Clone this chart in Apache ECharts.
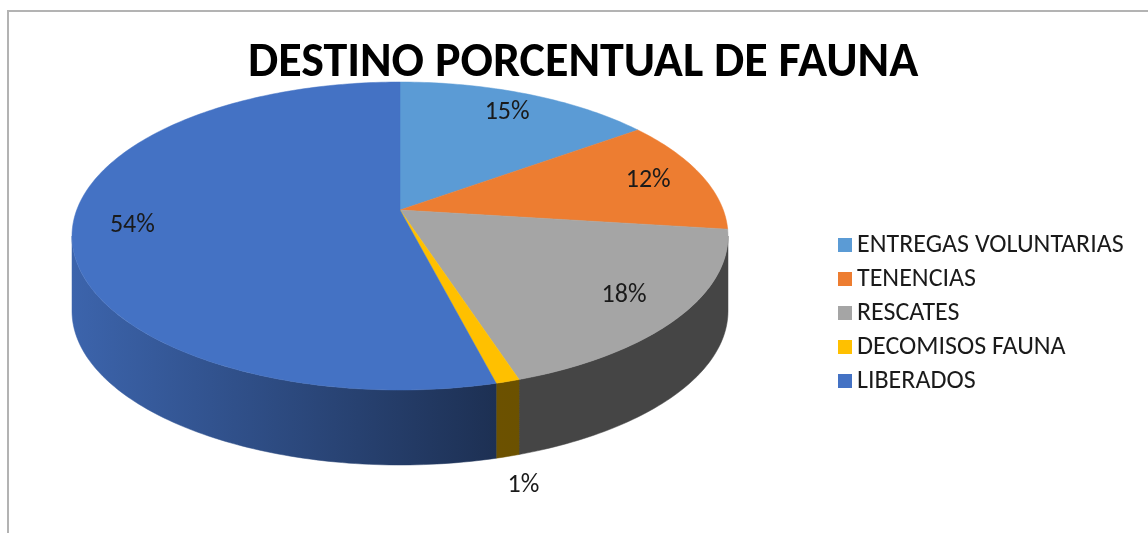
<!DOCTYPE html>
<html>
<head>
<meta charset="utf-8">
<script src="https://cdn.jsdelivr.net/npm/echarts@6/dist/echarts.min.js"></script>
<style>
  html, body { margin: 0; padding: 0; background: #fff; }
  #chart { width: 1148px; height: 533px; }
</style>
</head>
<body>
<div id="chart"></div>
<script>
// datos del grafico
var categories = ['ENTREGAS VOLUNTARIAS', 'TENENCIAS', 'RESCATES', 'DECOMISOS FAUNA', 'LIBERADOS'];
var values = [15, 12, 18, 1, 54];
var sliceColors = ['#5B9BD5', '#ED7D31', '#A5A5A5', '#FFC000', '#4472C4'];

var FONT = 'Carlito, Calibri, Lato, sans-serif';

// geometria del pastel 3D (elipse con perspectiva)
var cx = 400, cy = 236, rx = 328, ry = 154, k = 0.169, depth = 75;
var visFrom = Math.acos(-k), visTo = 2 * Math.PI - Math.acos(-k);

var total = values.reduce(function (a, b) { return a + b; }, 0);

function proj(t, r) {
	var u = r * Math.sin(t), v = -r * Math.cos(t);
	var d = 1 - k * v;
	return [cx + rx * u * Math.sqrt(1 - k * k) / d, cy + ry * (v - k) / d];
}

function shade(hex, f) {
	var n = parseInt(hex.slice(1), 16);
	var r = Math.round(((n >> 16) & 255) * f), g = Math.round(((n >> 8) & 255) * f), b = Math.round((n & 255) * f);
	return 'rgb(' + r + ',' + g + ',' + b + ')';
}

function sideFactor(x) {
	var t = Math.max(0, Math.min(1, (500 - x) / 430));
	return 0.42 + 0.46 * t;
}

function arcPoints(a0, a1, r) {
	var pts = [];
	var n = Math.max(2, Math.ceil((a1 - a0) / (Math.PI / 180)));
	for (var j = 0; j <= n; j++) {
		pts.push(proj(a0 + (a1 - a0) * j / n, r));
	}
	return pts;
}

function renderItem(params, api) {
	var i = params.dataIndex;
	var before = 0;
	for (var j = 0; j < i; j++) before += values[j];
	var val = api.value(0);
	var a0 = before / total * 2 * Math.PI;
	var a1 = (before + val) / total * 2 * Math.PI;
	var color = sliceColors[i];
	var children = [];

	// lado visible
	var s0 = Math.max(a0, visFrom), s1 = Math.min(a1, visTo);
	if (s0 < s1) {
		var topEdge = arcPoints(s0, s1, 1);
		var bottomEdge = topEdge.map(function (p) { return [p[0], p[1] + depth]; }).reverse();
		var xs = topEdge.map(function (p) { return p[0]; });
		var xmin = Math.min.apply(null, xs), xmax = Math.max.apply(null, xs);
		var fill = new echarts.graphic.LinearGradient(0, 0, 1, 0, [
			{ offset: 0, color: shade(color, sideFactor(xmin)) },
			{ offset: 1, color: shade(color, sideFactor(xmax)) }
		]);
		children.push({
			type: 'polygon',
			shape: { points: topEdge.concat(bottomEdge) },
			style: { fill: fill, stroke: fill, lineWidth: 0.5 }
		});
	}

	// cara superior
	var face = [proj(0, 0)].concat(arcPoints(a0, a1, 1));
	children.push({
		type: 'polygon',
		shape: { points: face },
		style: { fill: color, stroke: color, lineWidth: 0.5 }
	});

	// etiqueta
	var mid = (a0 + a1) / 2;
	var pct = Math.round(val / total * 100) + '%';
	var lp;
	if (val / total < 0.05) {
		lp = proj(mid, 1.12);
		lp = [lp[0], lp[1] + depth + 4];
	} else {
		lp = proj(mid, 0.82);
	}
	children.push({
		type: 'text',
		style: {
			text: pct, x: lp[0], y: lp[1], align: 'center', verticalAlign: 'middle',
			fontFamily: FONT, fontSize: 26, fill: '#1a1a1a'
		}
	});

	return { type: 'group', children: children };
}

var chart = echarts.init(document.getElementById('chart'));

var option = {
	animation: false,
	color: sliceColors,
	title: {
		text: 'DESTINO PORCENTUAL DE FAUNA',
		left: 243,
		top: 35,
		textStyle: { fontFamily: FONT, fontSize: 48, fontWeight: 'bold', color: '#000' }
	},
	legend: {
		orient: 'vertical',
		left: 838,
		top: 232,
		padding: 0,
		icon: 'rect',
		itemWidth: 14,
		itemHeight: 14,
		itemGap: 8,
		textStyle: { fontFamily: FONT, fontSize: 26, color: '#1a1a1a' },
		data: categories
	},
	graphic: [{
		type: 'rect',
		shape: { x: 8, y: 11, width: 1200, height: 600 },
		style: { fill: 'none', stroke: '#b3b3b3', lineWidth: 2 },
		silent: true
	}],
	series: [{
		name: 'Destino',
		type: 'custom',
		coordinateSystem: 'none',
		renderItem: renderItem,
		data: values.map(function (v, i) { return { name: categories[i], value: [v] }; })
	}, {
		// serie invisible para la leyenda
		name: 'leyenda',
		type: 'pie',
		radius: 0,
		center: [-100, -100],
		silent: true,
		label: { show: false },
		labelLine: { show: false },
		data: values.map(function (v, i) { return { name: categories[i], value: v }; })
	}]
};

chart.setOption(option);
</script>
</body>
</html>
